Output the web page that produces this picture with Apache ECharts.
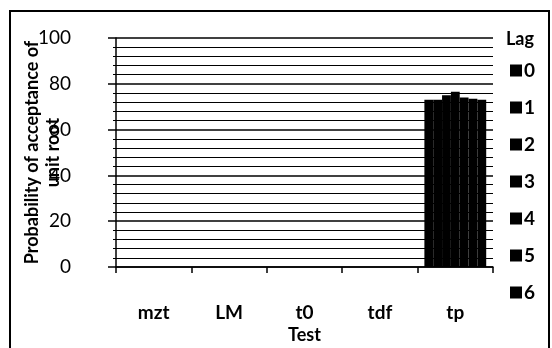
<!DOCTYPE html>
<html><head><meta charset="utf-8">
<script src="https://cdn.jsdelivr.net/npm/echarts@6/dist/echarts.min.js"></script>
<style>html,body{margin:0;padding:0;background:#fff}#c{width:552px;height:348px}</style>
</head><body><div id="c"></div>
<script>
const categories = ['mzt', 'LM', 't0', 'tdf', 'tp'];
const lagNames = ['0', '1', '2', '3', '4', '5', '6'];
const lag0 = [null, null, null, null, 73];
const lag1 = [null, null, null, null, 73];
const lag2 = [null, null, null, null, 75];
const lag3 = [null, null, null, null, 76.5];
const lag4 = [null, null, null, null, 74];
const lag5 = [null, null, null, null, 73.5];
const lag6 = [null, null, null, null, 73];
const lagValues = [lag0, lag1, lag2, lag3, lag4, lag5, lag6];
const yTicks = [0, 20, 40, 60, 80, 100];

const FONT = 'Lato';
const chart = echarts.init(document.getElementById('c'), null, {renderer: 'canvas'});
chart.setOption({
  animation: false,
  backgroundColor: '#fff',
  grid: {left: 116, right: 59, top: 38, bottom: 81, containLabel: false, outerBoundsMode: 'none'},
  graphic: [
    {type: 'rect', shape: {x: 10, y: 11, width: 539, height: 345},
      style: {fill: 'none', stroke: '#000', lineWidth: 2}, silent: true},
    {type: 'text', left: 506, top: 30,
      style: {text: 'Lag', font: 'bold 18px Lato', fill: '#000'}}
  ],
  legend: {
    orient: 'vertical', left: 505, top: 56,
    data: lagNames,
    icon: 'rect', itemWidth: 12, itemHeight: 12, itemGap: 18,
    textStyle: {fontFamily: FONT, fontSize: 19, fontWeight: 'bold', color: '#000', padding: [0,0,0,-3]}
  },
  xAxis: {
    type: 'category', data: categories,
    name: 'Test', nameLocation: 'middle', nameGap: 59, nameMoveOverlap: false,
    nameTextStyle: {fontFamily: FONT, fontSize: 18, fontWeight: 'bold', color: '#000'},
    axisLine: {lineStyle: {color: '#000', width: 1.5}},
    axisTick: {show: true, length: 6, lineStyle: {color: '#000', width: 1.5}},
    axisLabel: {fontFamily: FONT, fontSize: 19, fontWeight: 'bold', color: '#000', margin: 36}
  },
  yAxis: {
    type: 'value', min: yTicks[0], max: yTicks[yTicks.length - 1], interval: 20,
    name: 'Probability of acceptance of\nunit root', nameLocation: 'middle', nameGap: 52, nameRotate: 90,
    nameMoveOverlap: false,
    nameTextStyle: {fontFamily: FONT, fontSize: 18, fontWeight: 'bold', color: '#000', lineHeight: 21},
    axisLine: {show: true, lineStyle: {color: '#000', width: 1.5}},
    axisTick: {show: true, length: 8, lineStyle: {color: '#000', width: 1.5}},
    minorTick: {show: true, splitNumber: 5, length: 3, lineStyle: {color: '#000'}},
    splitLine: {show: true, lineStyle: {color: '#000', width: 1.5}},
    minorSplitLine: {show: true, lineStyle: {color: '#000', width: 1.2}},
    axisLabel: {fontFamily: FONT, fontSize: 19, color: '#000', margin: 45}
  },
  series: lagNames.map((n, i) => ({
    name: n, type: 'bar', data: lagValues[i],
    barGap: '0%', barCategoryGap: '18%',
    itemStyle: {color: '#000'}
  }))
});
</script></body></html>
